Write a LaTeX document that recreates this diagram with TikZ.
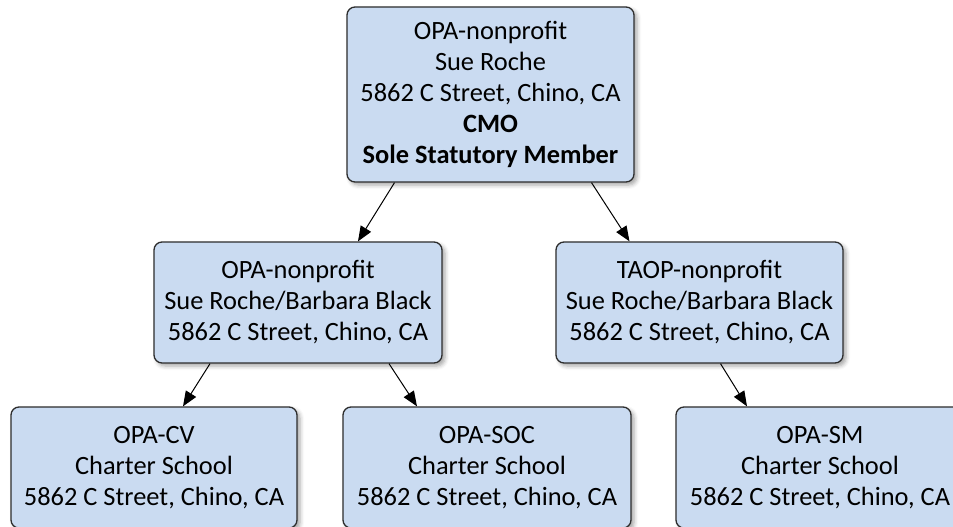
\documentclass[tikz,border=0pt]{standalone}
\usepackage{fontspec}
\setmainfont{Carlito}
\usetikzlibrary{arrows.meta,shadows.blur}
\definecolor{boxfill}{RGB}{202,219,241}
\definecolor{boxline}{RGB}{45,45,45}

\begin{document}
\begin{tikzpicture}[x=1pt,y=-1pt,
  orgbox/.style={draw=boxline,line width=1.3pt,fill=boxfill,rounded corners=8pt,
    minimum width=288pt,minimum height=121pt,align=center,inner sep=0pt,
    font=\fontsize{26.4}{31}\selectfont,
    blur shadow={shadow xshift=3pt,shadow yshift=-3pt,shadow blur radius=4pt,shadow opacity=35}},
  link/.style={-{Triangle[length=15pt,width=12pt]},line width=1pt}]
\clip (0,0) rectangle (953,527);
\useasboundingbox (0,0) rectangle (953,527);
% top level
\node [orgbox,minimum width=287pt,minimum height=175pt] (cmo) at (490.5,94.5)
  {OPA-nonprofit\\Sue Roche\\5862 C Street, Chino, CA\\\textbf{CMO}\\\textbf{Sole Statutory Member}};
% middle level
\node [orgbox] (opa) at (298,302.5) {OPA-nonprofit\\Sue Roche/Barbara Black\\5862 C Street, Chino, CA};
\node [orgbox,minimum width=287pt] (taop) at (699.5,302.5) {TAOP-nonprofit\\Sue Roche/Barbara Black\\5862 C Street, Chino, CA};
% schools
\node [orgbox,minimum width=286pt] (cv) at (154,467.5) {OPA-CV\\Charter School\\5862 C Street, Chino, CA};
\node [orgbox] (soc) at (487,467.5) {OPA-SOC\\Charter School\\5862 C Street, Chino, CA};
\node [orgbox] (sm) at (820,467.5) {OPA-SM\\Charter School\\5862 C Street, Chino, CA};
% links
\draw [link] ([xshift=-96pt]cmo.south) -- ([xshift=60pt]opa.north);
\draw [link] ([xshift=101pt]cmo.south) -- ([xshift=-70pt]taop.north);
\draw [link] ([xshift=-88pt]opa.south) -- ([xshift=29pt]cv.north);
\draw [link] ([xshift=91pt]opa.south) -- ([xshift=-70pt]soc.north);
\draw [link] ([xshift=21pt]taop.south) -- ([xshift=-73pt]sm.north);
\end{tikzpicture}
\end{document}
